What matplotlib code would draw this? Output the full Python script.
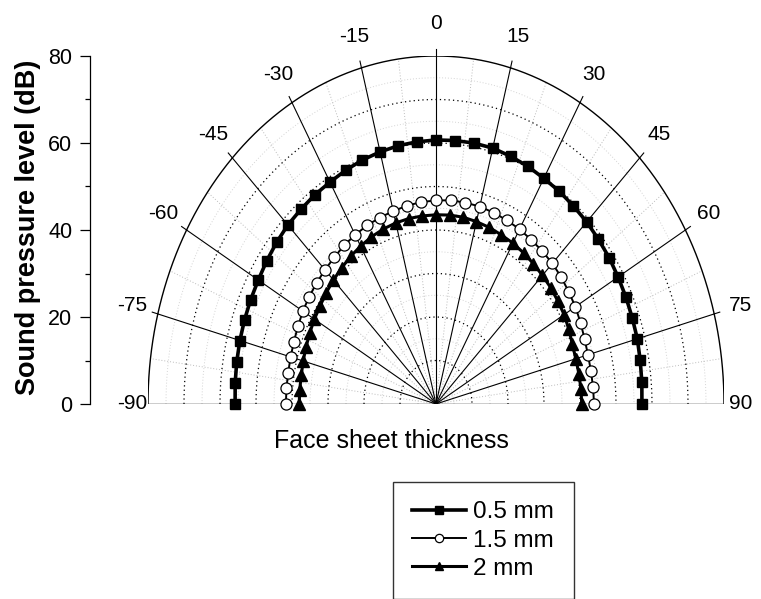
import numpy as np
import matplotlib.pyplot as plt

plt.rcParams['font.family'] = ['Liberation Sans', 'DejaVu Sans']

# angle (deg) and sound pressure level (dB) for each face sheet thickness
angles = list(range(-90, 95, 5))
spl_05 = [55.8, 56.0, 56.2, 56.4, 56.6, 56.8, 57.0, 57.4, 57.8, 58.2, 58.4, 58.7, 58.9,
          59.3, 59.7, 60.0, 60.3, 60.5, 60.7, 60.8, 60.9, 60.9, 60.6, 60.3, 59.9, 59.7,
          59.4, 59.2, 58.9, 58.7, 58.4, 58.2, 58.0, 57.9, 57.6, 57.4, 57.2]
spl_15 = [41.7, 41.7, 41.7, 41.8, 42.0, 42.3, 42.7, 43.0, 43.3, 43.6, 44.0, 44.5, 44.9,
          45.3, 45.6, 45.9, 46.3, 46.6, 46.8, 47.0, 47.0, 47.0, 46.8, 46.6, 46.4, 46.1,
          45.9, 45.7, 45.4, 45.0, 44.7, 44.3, 43.9, 43.7, 43.7, 43.8, 43.9]
spl_20 = [38.0, 38.0, 38.0, 38.2, 38.4, 38.7, 39.0, 39.3, 39.8, 40.3, 40.8, 41.4, 41.9,
          42.4, 42.8, 43.1, 43.3, 43.4, 43.5, 43.6, 43.6, 43.4, 43.2, 42.9, 42.7, 42.4,
          42.1, 41.8, 41.6, 41.3, 41.1, 40.7, 40.3, 40.2, 40.3, 40.4, 40.5]
labels = ['0.5 mm', '1.5 mm', '2 mm']

angle_ticks = list(range(-90, 91, 15))
r_max = 80


def to_xy(theta_deg, r):
    t = np.radians(np.asarray(theta_deg, dtype=float))
    r = np.asarray(r, dtype=float)
    return r * np.sin(t), r * np.cos(t)


fig = plt.figure(figsize=(7.61, 5.99), dpi=100)
ax = fig.add_axes([148 / 761, 1 - 404 / 599, 576 / 761, 348 / 599])
ax.set_xlim(-r_max, r_max)
ax.set_ylim(0, r_max)

# grid: arcs
th = np.linspace(-90, 90, 361)
for r in range(5, 80, 10):
    x, y = to_xy(th, np.full_like(th, r))
    ax.plot(x, y, color='#d4d4d4', lw=0.7, ls=(0, (1, 2)), zorder=1)
for r in range(10, 80, 10):
    x, y = to_xy(th, np.full_like(th, r))
    ax.plot(x, y, color='black', lw=0.9, ls=(0, (1, 2.5)), zorder=2)
x, y = to_xy(th, np.full_like(th, r_max))
ax.plot(x, y, color='black', lw=1.0, zorder=2)

# grid: radial lines
for a in np.arange(-82.5, 90, 15):
    x, y = to_xy([a, a], [0, r_max])
    ax.plot(x, y, color='#bbbbbb', lw=0.7, ls=(0, (1, 2)), zorder=1)
for a in angle_ticks[1:-1]:
    x, y = to_xy([a, a], [0, r_max])
    ax.plot(x, y, color='black', lw=0.8, zorder=2)
    x, y = to_xy([a, a], [r_max, r_max * 1.02])
    ax.plot(x, y, color='black', lw=0.8, zorder=2, clip_on=False)
ax.plot([-r_max, r_max], [0, 0], color='black', lw=1.0, zorder=2)

# angle labels
for a in angle_ticks:
    rr = 87.5 if abs(a) < 90 else 84.5
    x, y = to_xy(a, rr)
    ax.text(x, y, str(a), ha='center', va='center', fontsize=15, clip_on=False)

# data curves
x, y = to_xy(angles, spl_05)
ax.plot(x, y, color='black', lw=2.6, marker='s', ms=7, mfc='black', mec='black',
        label=labels[0], zorder=5, clip_on=False)
x, y = to_xy(angles, spl_15)
ax.plot(x, y, color='black', lw=1.4, marker='o', ms=8, mfc='white', mec='black',
        mew=0.9, label=labels[1], zorder=4, clip_on=False)
x, y = to_xy(angles, spl_20)
ax.plot(x, y, color='black', lw=2.2, marker='^', ms=8, mfc='black', mec='black',
        label=labels[2], zorder=3, clip_on=False)

# left radial scale
for s in ['top', 'right', 'bottom']:
    ax.spines[s].set_visible(False)
ax.spines['left'].set_position(('outward', 41.8))
ax.spines['left'].set_linewidth(0.9)
ax.set_xticks([])
ax.set_yticks([0, 20, 40, 60, 80])
ax.set_yticks([10, 30, 50, 70], minor=True)
ax.tick_params(axis='y', which='major', direction='out', length=7.2, width=0.9,
               labelsize=15.5, pad=5.5)
ax.tick_params(axis='y', which='minor', direction='out', length=3.8, width=0.9)

fig.text(28 / 761, 1 - 227 / 599, 'Sound pressure level (dB)', rotation=90,
         ha='center', va='center', fontsize=19.5, fontweight='bold')
fig.text(391 / 761, 1 - 441 / 599, 'Face sheet thickness', ha='center', va='center',
         fontsize=18)

leg = fig.legend(loc='upper left', bbox_to_anchor=(393 / 761, 1 - 482 / 599),
                 borderaxespad=0, fontsize=17.5, frameon=True, fancybox=False,
                 edgecolor='black', handlelength=2.2, handletextpad=0.3,
                 labelspacing=0.25, borderpad=0.8, markerscale=0.75)
leg.get_frame().set_linewidth(1.0)

fig.savefig('out.png', dpi=100)
